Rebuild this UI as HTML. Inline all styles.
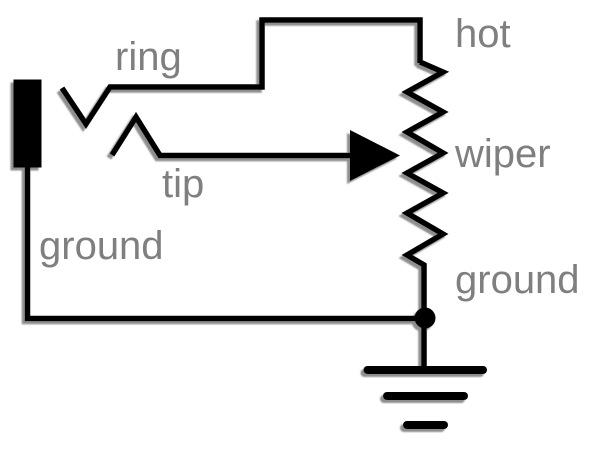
<!DOCTYPE html>
<html>
<head>
<meta charset="utf-8">
<style>
html,body{margin:0;padding:0;background:#fff;}
svg{display:block;}
text{font-family:"Liberation Sans",sans-serif;font-size:40px;fill:#7f7f7f;}
</style>
</head>
<body>
<svg width="613" height="457" viewBox="0 0 613 457" xmlns="http://www.w3.org/2000/svg">
<defs>
<filter id="sh" x="-10%" y="-10%" width="120%" height="120%">
<feOffset in="SourceAlpha" dx="-3" dy="3" result="o"/>
<feGaussianBlur in="o" stdDeviation="0.9" result="b"/>
<feFlood flood-color="#8e8e8e" result="c"/>
<feComposite in="c" in2="b" operator="in" result="s"/>
<feMerge><feMergeNode in="s"/><feMergeNode in="SourceGraphic"/></feMerge>
</filter>
</defs>
<g filter="url(#sh)" fill="none" stroke="#000" stroke-width="5.5" stroke-linejoin="miter" stroke-miterlimit="10">
<rect x="13.5" y="79.5" width="28" height="88" fill="#000" stroke="none"/>
<polyline points="27.5,167 27.5,318.5 424,318.5"/>
<polyline points="62,88 86,124 110,87 262,87 262,20 420,20 420,63"/>
<polyline points="112,155 136,117 160,155.5 352,155.5"/>
<polygon points="350,130 400,155.5 350,181" fill="#000" stroke="none"/>
<polyline points="420,62 443,72 407,92 443,112 407,132 443,153 407,173 443,193 407,213 443,234 407,255 424,265 424,370"/>
<circle cx="425" cy="318" r="10.5" fill="#000" stroke="none"/>
<line x1="367.5" y1="370" x2="483" y2="370" stroke-width="8" stroke-linecap="round"/>
<line x1="387" y1="396" x2="464" y2="396" stroke-width="8" stroke-linecap="round"/>
<line x1="407" y1="425" x2="444" y2="425" stroke-width="8" stroke-linecap="round"/>
</g>
<text x="115" y="70">ring</text>
<text x="162" y="197">tip</text>
<text x="39" y="259">ground</text>
<text x="455" y="47">hot</text>
<text x="455" y="167">wiper</text>
<text x="455" y="293">ground</text>
</svg>
</body>
</html>
